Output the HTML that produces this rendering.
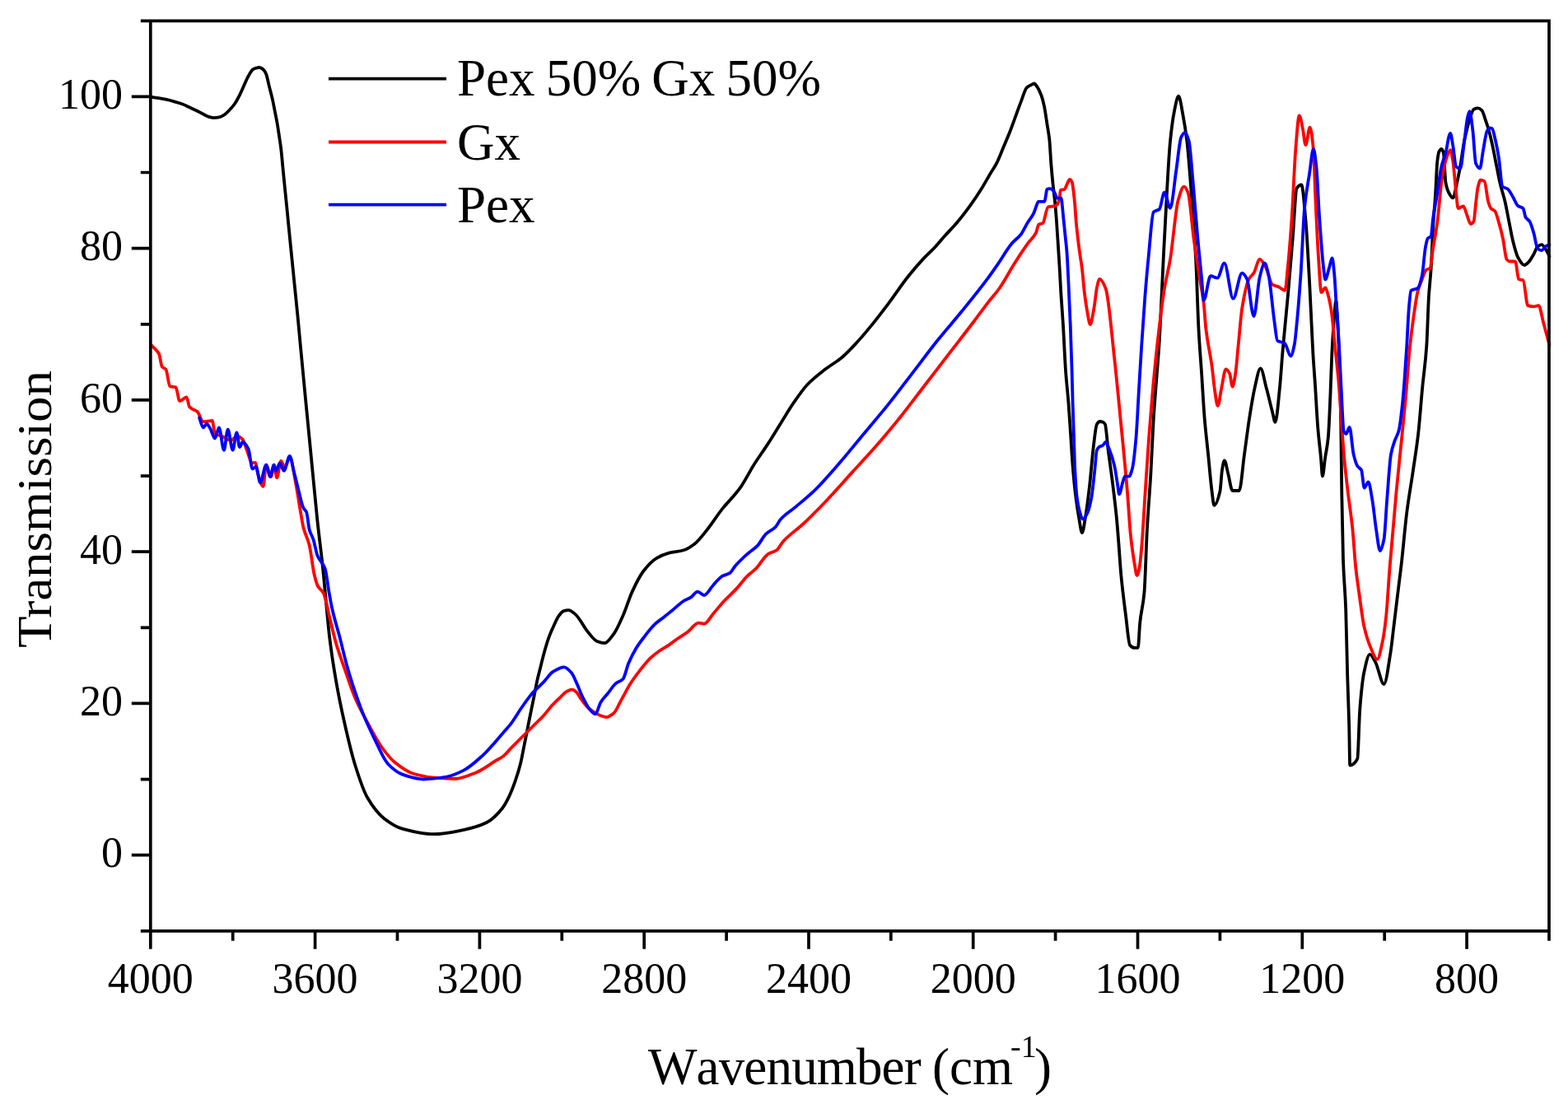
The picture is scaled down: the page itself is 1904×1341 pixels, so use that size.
<!DOCTYPE html>
<html><head><meta charset="utf-8"><style>
html,body{margin:0;padding:0;background:#fff;width:1904px;height:1341px;overflow:hidden}
svg{display:block}
</style></head><body>
<svg width="1904" height="1341" viewBox="0 0 1904 1341"><rect width="1904" height="1341" fill="#fff"/><g fill="none" stroke-width="3.8" stroke-linejoin="round" stroke-linecap="round"><path stroke="#000" d="M182.5,117.6C185.87,118.1 189.23,118.6 192.6,119.2C195.77,119.7 198.93,120.2 202.1,120.9C205.23,121.6 208.37,122.4 211.5,123.3C214.67,124.2 217.83,125.1 221.0,126.3C224.13,127.4 227.27,129.0 230.4,130.4C233.57,131.9 236.73,133.4 239.9,135.0C241.67,135.9 243.43,136.8 245.2,137.7C248.00,139.1 250.80,141.1 253.6,141.9C255.70,142.5 257.80,143.2 259.9,143.2C262.00,143.2 264.10,142.8 266.2,142.4C268.30,142.0 270.40,140.7 272.5,139.4C274.60,138.1 276.70,135.7 278.8,133.5C280.90,131.3 283.00,129.0 285.1,126.0C287.03,123.2 288.97,119.4 290.9,115.6C292.40,112.6 293.90,109.1 295.4,105.8C296.87,102.6 298.33,99.0 299.8,96.0C301.00,93.6 302.20,91.1 303.4,89.2C304.60,87.3 305.80,85.1 307.0,84.3C308.20,83.5 309.40,83.2 310.6,82.8C311.93,82.4 313.27,81.9 314.6,81.9C315.63,81.9 316.67,82.5 317.7,83.0C318.63,83.5 319.57,84.3 320.5,85.3C321.40,86.3 322.30,87.9 323.2,90.0C324.43,92.9 325.67,100.0 326.9,104.9C328.17,110.0 329.43,114.3 330.7,119.9C331.70,124.3 332.70,129.7 333.7,134.8C334.67,139.7 335.63,144.1 336.6,149.7C337.37,154.1 338.13,159.5 338.9,164.6C339.63,169.5 340.37,173.6 341.1,179.6C342.07,187.5 343.03,199.6 344.0,209.4C345.50,224.6 347.00,239.0 348.5,254.1C349.97,268.8 351.43,284.1 352.9,298.8C354.40,313.9 355.90,328.6 357.4,343.5C358.90,358.4 360.40,372.6 361.9,388.2C362.87,398.3 363.83,409.4 364.8,419.7C366.83,441.4 368.87,462.4 370.9,483.5C373.30,508.4 375.70,532.8 378.1,557.5C380.50,582.2 382.90,608.8 385.3,631.5C387.67,653.9 390.03,670.6 392.4,693.6C393.40,703.3 394.40,715.0 395.4,725.4C397.07,742.7 398.73,762.5 400.4,776.1C402.93,796.8 405.47,812.3 408.0,826.8C411.40,846.3 414.80,862.4 418.2,877.5C422.43,896.3 426.67,914.6 430.9,928.2C435.97,944.5 441.03,960.0 446.1,968.8C452.87,980.5 459.63,988.9 466.4,994.2C474.00,1000.1 481.60,1004.9 489.2,1006.9C501.87,1010.3 514.53,1013.2 527.2,1013.2C539.03,1013.2 550.87,1010.5 562.7,1008.1C572.00,1006.2 581.30,1003.8 590.6,999.3C597.07,996.2 603.53,989.8 610.0,981.7C612.70,978.3 615.40,973.2 618.1,967.6C620.77,962.1 623.43,955.1 626.1,947.4C628.10,941.6 630.10,935.4 632.1,927.3C633.47,921.8 634.83,914.0 636.2,907.2C637.53,900.6 638.87,893.7 640.2,887.0C641.53,880.3 642.87,873.5 644.2,866.9C645.57,860.1 646.93,853.6 648.3,846.8C649.63,840.2 650.97,832.6 652.3,826.6C653.63,820.6 654.97,815.9 656.3,810.5C657.63,805.1 658.97,799.3 660.3,794.4C662.33,787.0 664.37,779.9 666.4,774.3C668.40,768.8 670.40,764.5 672.4,760.2C674.43,755.8 676.47,750.8 678.5,748.1C680.50,745.4 682.50,742.7 684.5,742.1C686.50,741.5 688.50,741.1 690.5,741.1C693.20,741.1 695.90,743.9 698.6,746.1C703.73,750.3 708.87,761.8 714.0,767.8C717.70,772.1 721.40,777.6 725.1,779.0C728.10,780.2 731.10,781.2 734.1,781.2C737.83,781.2 741.57,775.0 745.3,770.0C749.03,765.0 752.77,756.1 756.5,747.7C760.23,739.3 763.97,726.7 767.7,718.6C772.17,708.9 776.63,699.9 781.1,694.0C786.30,687.2 791.50,681.4 796.7,678.3C801.93,675.2 807.17,673.0 812.4,671.6C818.37,670.0 824.33,670.0 830.3,668.2C834.77,666.9 839.23,663.8 843.7,660.4C848.93,656.4 854.17,649.0 859.4,642.5C865.37,635.1 871.33,625.3 877.3,617.9C882.50,611.4 887.70,606.4 892.9,600.0C895.27,597.1 897.63,594.2 900.0,590.8C904.97,583.6 909.93,573.3 914.9,565.4C920.87,555.9 926.83,547.9 932.8,538.6C937.77,530.9 942.73,522.6 947.7,514.7C952.67,506.8 957.63,498.1 962.6,490.9C968.57,482.2 974.53,473.3 980.5,467.0C987.47,459.7 994.43,454.5 1001.4,449.1C1008.37,443.7 1015.33,440.0 1022.3,434.2C1028.27,429.2 1034.23,422.7 1040.2,416.3C1046.17,409.9 1052.13,402.7 1058.1,395.4C1065.03,386.9 1071.97,377.8 1078.9,368.6C1086.87,358.0 1094.83,345.8 1102.8,335.8C1108.77,328.3 1114.73,321.3 1120.7,314.9C1125.67,309.6 1130.63,305.3 1135.6,300.0C1139.20,296.1 1142.80,291.6 1146.4,287.5C1151.87,281.3 1157.33,276.0 1162.8,269.5C1168.27,263.0 1173.73,255.8 1179.2,248.1C1183.57,242.0 1187.93,235.4 1192.3,228.4C1196.13,222.3 1199.97,215.2 1203.8,208.8C1205.80,205.5 1207.80,202.8 1209.8,199.0C1212.50,193.9 1215.20,186.6 1217.9,180.2C1220.87,173.2 1223.83,166.3 1226.8,158.7C1229.20,152.5 1231.60,145.6 1234.0,139.1C1236.10,133.4 1238.20,127.5 1240.3,122.1C1242.37,116.8 1244.43,109.0 1246.5,106.8C1248.00,105.2 1249.50,104.5 1251.0,103.7C1252.63,102.8 1254.27,101.5 1255.9,101.5C1256.67,101.5 1257.43,102.8 1258.2,103.7C1260.27,106.2 1262.33,110.4 1264.4,115.8C1265.60,119.0 1266.80,123.6 1268.0,129.2C1269.20,134.8 1270.40,143.9 1271.6,151.6C1272.50,157.4 1273.40,161.2 1274.3,169.5C1275.00,176.0 1275.70,191.3 1276.4,200.0C1277.17,209.6 1277.93,217.6 1278.7,225.0C1279.47,232.4 1280.23,237.2 1281.0,245.0C1281.63,251.4 1282.27,259.3 1282.9,267.8C1283.53,276.3 1284.17,287.1 1284.8,296.9C1285.40,306.2 1286.00,314.9 1286.6,325.0C1287.17,334.6 1287.73,346.8 1288.3,356.1C1289.17,370.3 1290.03,380.2 1290.9,394.2C1291.93,410.9 1292.97,435.6 1294.0,450.1C1295.17,466.5 1296.33,475.0 1297.5,490.0C1298.37,501.2 1299.23,515.1 1300.1,528.0C1300.93,540.4 1301.77,555.9 1302.6,566.1C1303.87,581.6 1305.13,594.0 1306.4,604.1C1307.67,614.2 1308.93,622.5 1310.2,629.5C1311.47,636.5 1312.73,647.2 1314.0,647.2C1315.27,647.2 1316.53,636.7 1317.8,629.5C1319.50,619.9 1321.20,605.9 1322.9,591.4C1324.60,576.9 1326.30,554.1 1328.0,540.7C1329.27,530.7 1330.53,517.4 1331.8,515.4C1333.03,513.4 1334.27,512.0 1335.5,512.0C1336.80,512.0 1338.10,512.3 1339.4,512.8C1340.23,513.1 1341.07,513.9 1341.9,515.4C1343.17,517.6 1344.43,537.1 1345.7,547.1C1347.40,560.5 1349.10,571.4 1350.8,585.1C1352.50,598.8 1354.20,611.9 1355.9,629.5C1356.73,638.1 1357.57,649.4 1358.4,660.0C1359.37,672.3 1360.33,688.1 1361.3,698.4C1363.20,718.7 1365.10,732.6 1367.0,747.5C1368.67,760.6 1370.33,781.8 1372.0,783.6C1373.90,785.7 1375.80,786.9 1377.7,786.9C1379.07,786.9 1380.43,786.9 1381.8,786.9C1382.63,786.9 1383.47,763.4 1384.3,755.7C1386.03,739.6 1387.77,738.5 1389.5,719.3C1390.63,706.8 1391.77,663.9 1392.9,643.2C1394.37,616.4 1395.83,601.6 1397.3,576.3C1398.43,556.7 1399.57,527.5 1400.7,509.3C1401.80,491.7 1402.90,479.3 1404.0,464.6C1405.13,449.5 1406.27,437.5 1407.4,420.0C1409.57,386.5 1411.73,330.5 1413.9,291.0C1416.27,247.9 1418.63,195.5 1421.0,171.6C1422.60,155.5 1424.20,143.6 1425.8,135.8C1427.57,127.2 1429.33,116.7 1431.1,116.7C1432.93,116.7 1434.77,130.9 1436.6,140.6C1438.17,148.9 1439.73,158.4 1441.3,171.6C1443.30,188.4 1445.30,216.7 1447.3,243.3C1448.90,264.6 1450.50,284.6 1452.1,314.9C1453.23,336.4 1454.37,378.8 1455.5,400.0C1456.70,422.5 1457.90,435.5 1459.1,453.7C1460.27,471.3 1461.43,493.2 1462.6,507.4C1464.10,525.7 1465.60,537.2 1467.1,552.1C1468.60,567.0 1470.10,585.5 1471.6,596.9C1472.50,603.7 1473.40,613.9 1474.3,613.9C1476.67,613.9 1479.03,607.0 1481.4,596.9C1482.30,593.1 1483.20,575.1 1484.1,570.0C1485.00,564.9 1485.90,559.3 1486.8,559.3C1488.30,559.3 1489.80,569.8 1491.3,575.4C1493.07,582.0 1494.83,596.0 1496.6,596.0C1499.30,596.0 1502.00,596.0 1504.7,596.0C1506.80,596.0 1508.90,567.0 1511.0,552.1C1513.07,537.5 1515.13,520.5 1517.2,507.4C1519.30,494.0 1521.40,480.6 1523.5,471.6C1525.87,461.5 1528.23,447.4 1530.6,447.4C1533.00,447.4 1535.40,462.9 1537.8,471.6C1540.20,480.3 1542.60,491.2 1545.0,500.2C1546.17,504.6 1547.33,512.8 1548.5,512.8C1550.30,512.8 1552.10,488.9 1553.9,471.6C1555.10,460.1 1556.30,440.7 1557.5,426.8C1559.63,402.2 1561.77,382.8 1563.9,358.8C1565.90,336.3 1567.90,311.6 1569.9,287.2C1571.47,268.1 1573.03,230.9 1574.6,228.7C1576.50,226.0 1578.40,224.5 1580.3,224.5C1582.03,224.5 1583.77,248.7 1585.5,268.0C1587.03,285.1 1588.57,314.9 1590.1,343.0C1591.13,361.9 1592.17,386.0 1593.2,406.6C1593.60,414.6 1594.00,423.2 1594.4,430.0C1595.27,444.7 1596.13,454.8 1597.0,468.0C1598.07,484.2 1599.13,505.6 1600.2,518.8C1601.47,534.5 1602.73,543.3 1604.0,556.9C1604.63,563.7 1605.27,578.5 1605.9,578.5C1606.93,578.5 1607.97,564.0 1609.0,556.9C1610.27,548.3 1611.53,544.5 1612.8,531.5C1613.67,522.6 1614.53,500.5 1615.4,480.8C1616.03,466.4 1616.67,443.0 1617.3,430.0C1618.07,414.2 1618.83,402.8 1619.6,392.0C1620.13,384.5 1620.67,376.4 1621.2,372.0C1621.57,369.0 1621.93,365.0 1622.3,365.0C1622.80,365.0 1623.30,374.7 1623.8,382.0C1624.40,390.8 1625.00,406.2 1625.6,420.0C1626.13,432.2 1626.67,441.4 1627.2,460.0C1627.57,472.8 1627.93,495.1 1628.3,518.8C1628.63,540.4 1628.97,579.7 1629.3,600.0C1629.87,634.6 1630.43,664.0 1631.0,680.0C1632.07,710.1 1633.13,712.2 1634.2,740.4C1634.87,758.0 1635.53,797.9 1636.2,820.9C1636.87,843.9 1637.53,855.9 1638.2,881.3C1638.53,894.0 1638.87,929.6 1639.2,929.6C1642.23,929.6 1645.27,927.6 1648.3,921.6C1649.30,919.6 1650.30,873.9 1651.3,861.2C1652.97,840.0 1654.63,824.8 1656.3,816.9C1658.67,805.7 1661.03,794.8 1663.4,794.8C1665.73,794.8 1668.07,800.6 1670.4,804.8C1673.77,810.9 1677.13,831.0 1680.5,831.0C1683.17,831.0 1685.83,809.2 1688.5,792.7C1689.83,784.5 1691.17,771.4 1692.5,760.5C1694.53,743.9 1696.57,726.8 1698.6,710.2C1699.60,702.1 1700.60,694.7 1701.6,686.0C1703.80,667.0 1706.00,640.3 1708.2,622.9C1710.73,602.9 1713.27,589.7 1715.8,572.2C1717.93,557.5 1720.07,545.2 1722.2,526.5C1723.87,511.9 1725.53,488.2 1727.2,470.7C1728.90,452.9 1730.60,444.7 1732.3,420.2C1733.17,407.7 1734.03,375.0 1734.9,361.0C1735.80,346.5 1736.70,341.2 1737.6,327.4C1738.50,313.6 1739.40,287.4 1740.3,273.0C1741.20,258.6 1742.10,250.8 1743.0,237.0C1743.77,225.3 1744.53,202.4 1745.3,196.0C1746.03,189.9 1746.77,185.4 1747.5,184.0C1748.43,182.2 1749.37,180.8 1750.3,180.8C1751.17,180.8 1752.03,182.9 1752.9,185.9C1753.73,188.8 1754.57,216.7 1755.4,221.4C1756.67,228.5 1757.93,231.6 1759.2,234.0C1760.90,237.2 1762.60,240.4 1764.3,240.4C1765.97,240.4 1767.63,228.6 1769.3,221.4C1770.57,215.9 1771.83,209.4 1773.1,202.4C1774.80,193.0 1776.50,179.1 1778.2,170.7C1780.30,160.4 1782.40,151.7 1784.5,145.3C1786.20,140.1 1787.90,133.5 1789.6,132.7C1791.30,131.9 1793.00,131.4 1794.7,131.4C1796.27,131.4 1797.83,132.6 1799.4,134.1C1800.97,135.6 1802.53,142.1 1804.1,146.6C1805.13,149.5 1806.17,152.5 1807.2,156.0C1808.77,161.4 1810.33,167.8 1811.9,174.8C1813.47,181.8 1815.03,190.5 1816.6,198.3C1818.17,206.1 1819.73,215.1 1821.3,221.8C1823.40,230.8 1825.50,236.3 1827.6,245.3C1829.17,252.0 1830.73,261.0 1832.3,268.8C1833.87,276.6 1835.43,286.0 1837.0,292.3C1839.07,300.6 1841.13,308.9 1843.2,312.6C1845.83,317.3 1848.47,322.0 1851.1,322.0C1852.73,322.0 1854.37,320.1 1856.0,318.5C1858.10,316.5 1860.20,312.6 1862.3,309.0C1863.90,306.2 1865.50,300.8 1867.1,299.5C1868.70,298.2 1870.30,297.1 1871.9,297.1C1873.87,297.1 1875.83,301.3 1877.8,304.3C1879.00,306.1 1880.20,309.0 1881.4,311.4"/><path stroke="#f00" d="M183.6,419.1C185.57,421.1 187.53,422.8 189.5,425.1C190.70,426.5 191.90,427.4 193.1,429.8C194.30,432.2 195.50,443.7 196.7,445.3C198.30,447.4 199.90,446.9 201.5,448.9C203.10,450.9 204.70,468.6 206.3,469.2C208.67,470.0 211.03,469.6 213.4,470.4C215.00,470.9 216.60,487.1 218.2,487.1C220.97,487.1 223.73,482.3 226.5,482.3C227.70,482.3 228.90,492.9 230.1,494.3C233.30,498.0 236.50,497.2 239.7,500.2C242.07,502.4 244.43,512.2 246.8,512.2C250.40,512.2 254.00,511.0 257.6,511.0C258.77,511.0 259.93,525.5 261.1,526.5C264.07,528.9 267.03,528.7 270.0,530.0C273.33,531.5 276.67,535.0 280.0,535.0C282.67,535.0 285.33,530.0 288.0,530.0C290.20,530.0 292.40,531.6 294.6,533.7C296.17,535.2 297.73,541.8 299.3,545.6C301.70,551.4 304.10,562.3 306.5,562.3C307.67,562.3 308.83,562.0 310.0,562.0C311.00,562.0 312.00,571.8 313.0,575.0C315.20,582.1 317.40,590.9 319.6,590.9C320.80,590.9 322.00,564.7 323.2,564.7C325.20,564.7 327.20,579.0 329.2,579.0C330.37,579.0 331.53,565.0 332.7,565.0C333.90,565.0 335.10,580.2 336.3,580.2C337.90,580.2 339.50,559.9 341.1,559.9C342.73,559.9 344.37,568.0 346.0,568.0C347.93,568.0 349.87,555.1 351.8,555.1C354.20,555.1 356.60,574.1 359.0,586.2C360.60,594.3 362.20,605.6 363.8,614.8C365.37,623.8 366.93,634.8 368.5,641.0C370.90,650.5 373.30,652.9 375.7,662.5C377.70,670.5 379.70,690.1 381.7,698.3C383.13,704.2 384.57,709.4 386.0,712.0C388.27,716.1 390.53,716.1 392.8,720.3C395.33,725.0 397.87,740.6 400.4,750.7C402.93,760.8 405.47,772.5 408.0,781.2C411.40,792.9 414.80,801.8 418.2,811.6C422.43,823.8 426.67,837.2 430.9,847.1C435.97,859.0 441.03,868.1 446.1,877.5C452.00,888.4 457.90,899.9 463.8,908.0C468.90,915.0 474.00,921.5 479.1,925.7C486.70,931.9 494.30,937.4 501.9,939.7C510.33,942.2 518.77,944.0 527.2,944.7C535.67,945.4 544.13,946.0 552.6,946.0C561.07,946.0 569.53,941.8 578.0,938.4C586.43,935.0 594.87,928.2 603.3,923.2C605.53,921.9 607.77,920.9 610.0,919.3C613.37,916.9 616.73,912.6 620.1,909.2C623.43,905.9 626.77,902.4 630.1,899.1C633.47,895.7 636.83,892.3 640.2,889.0C643.57,885.7 646.93,882.4 650.3,879.0C653.63,875.7 656.97,872.6 660.3,868.9C663.67,865.2 667.03,860.5 670.4,856.8C673.77,853.1 677.13,849.9 680.5,846.8C683.17,844.3 685.83,841.0 688.5,839.7C690.53,838.7 692.57,837.7 694.6,837.7C696.40,837.7 698.20,839.2 700.0,840.7C701.67,842.1 703.33,846.0 705.0,848.3C708.00,852.4 711.00,856.8 714.0,859.5C717.70,862.9 721.40,865.6 725.1,867.3C728.83,869.0 732.57,871.1 736.3,871.1C739.30,871.1 742.30,868.7 745.3,866.2C748.27,863.7 751.23,855.9 754.2,850.6C757.93,844.0 761.67,836.3 765.4,830.4C769.13,824.5 772.87,819.6 776.6,814.8C781.07,809.1 785.53,803.3 790.0,799.1C793.73,795.6 797.47,792.8 801.2,790.2C804.93,787.6 808.67,785.9 812.4,783.4C815.37,781.4 818.33,778.8 821.3,776.7C825.80,773.5 830.30,771.1 834.8,767.8C839.27,764.5 843.73,756.6 848.2,756.6C850.43,756.6 852.67,757.7 854.9,757.7C858.63,757.7 862.37,749.6 866.1,745.4C870.57,740.4 875.03,734.6 879.5,729.8C884.73,724.2 889.97,719.8 895.2,714.1C899.30,709.6 903.40,703.6 907.5,699.6C910.97,696.2 914.43,694.1 917.9,690.7C922.87,685.8 927.83,675.9 932.8,672.8C936.27,670.7 939.73,670.7 943.2,668.3C945.70,666.6 948.20,660.7 950.7,657.9C958.67,649.0 966.63,644.4 974.6,637.0C984.53,627.8 994.47,617.6 1004.4,607.2C1014.33,596.8 1024.27,585.3 1034.2,574.4C1044.13,563.5 1054.07,553.0 1064.0,541.6C1073.97,530.2 1083.93,518.2 1093.9,505.8C1103.83,493.4 1113.77,479.9 1123.7,467.0C1133.63,454.1 1143.57,441.1 1153.5,428.2C1163.43,415.3 1173.37,402.6 1183.3,389.5C1188.87,382.1 1194.43,374.3 1200.0,367.1C1204.57,361.2 1209.13,356.4 1213.7,350.0C1219.70,341.5 1225.70,329.7 1231.7,320.3C1237.17,311.7 1242.63,303.3 1248.1,295.7C1251.40,291.1 1254.70,289.1 1258.0,282.6C1259.10,280.4 1260.20,273.4 1261.3,272.7C1262.93,271.7 1264.57,272.0 1266.2,271.1C1268.37,269.9 1270.53,252.0 1272.7,251.4C1275.13,250.8 1277.57,251.0 1280.0,250.4C1281.30,250.1 1282.60,249.6 1283.9,248.4C1284.87,247.5 1285.83,243.6 1286.8,238.8C1287.13,237.1 1287.47,231.2 1287.8,231.0C1289.40,230.2 1291.00,230.6 1292.6,230.0C1293.57,229.6 1294.53,226.1 1295.5,224.2C1296.63,222.0 1297.77,217.9 1298.9,217.9C1299.87,217.9 1300.83,219.3 1301.8,221.3C1302.43,222.6 1303.07,228.9 1303.7,233.9C1304.20,237.9 1304.70,242.7 1305.2,248.4C1305.67,253.7 1306.13,262.4 1306.6,267.8C1307.27,275.5 1307.93,281.3 1308.6,287.2C1309.40,294.3 1310.20,300.7 1311.0,306.6C1311.97,313.7 1312.93,318.2 1313.9,326.0C1314.90,334.0 1315.90,348.1 1316.9,356.1C1318.10,365.7 1319.30,373.8 1320.5,380.0C1321.60,385.7 1322.70,394.2 1323.8,394.2C1325.30,394.2 1326.80,383.1 1328.3,375.1C1329.53,368.5 1330.77,354.4 1332.0,349.0C1333.07,344.4 1334.13,338.8 1335.2,338.8C1337.70,338.8 1340.20,344.3 1342.7,350.7C1346.17,359.6 1349.63,403.3 1353.1,434.3C1355.60,456.7 1358.10,483.3 1360.6,509.0C1363.40,537.8 1366.20,564.9 1369.0,598.5C1370.27,613.7 1371.53,637.0 1372.8,649.2C1374.43,664.9 1376.07,675.9 1377.7,685.2C1378.67,690.7 1379.63,699.0 1380.6,699.0C1381.57,699.0 1382.53,694.5 1383.5,690.0C1384.40,685.8 1385.30,675.5 1386.2,665.5C1387.67,649.2 1389.13,620.7 1390.6,598.6C1392.10,576.0 1393.60,551.9 1395.1,531.6C1396.60,511.3 1398.10,492.6 1399.6,475.8C1401.43,455.3 1403.27,436.4 1405.1,420.0C1408.03,393.7 1410.97,368.6 1413.9,350.7C1416.27,336.3 1418.63,329.0 1421.0,314.9C1424.20,295.8 1427.40,254.3 1430.6,243.3C1433.00,235.0 1435.40,226.6 1437.8,226.6C1439.37,226.6 1440.93,229.9 1442.5,233.7C1444.90,239.5 1447.30,273.6 1449.7,291.0C1452.10,308.4 1454.50,323.6 1456.9,338.8C1458.47,348.7 1460.03,354.5 1461.6,367.4C1462.53,375.1 1463.47,392.1 1464.4,400.0C1466.80,420.3 1469.20,427.2 1471.6,444.7C1472.80,453.4 1474.00,467.6 1475.2,475.2C1476.37,482.6 1477.53,493.1 1478.7,493.1C1480.20,493.1 1481.70,478.4 1483.2,471.6C1485.00,463.4 1486.80,448.3 1488.6,448.3C1490.10,448.3 1491.60,450.8 1493.1,453.7C1494.27,456.0 1495.43,469.8 1496.6,469.8C1497.80,469.8 1499.00,461.1 1500.2,453.7C1501.40,446.3 1502.60,429.8 1503.8,417.9C1505.27,403.4 1506.73,383.7 1508.2,374.6C1511.00,357.2 1513.80,343.9 1516.6,338.8C1518.57,335.2 1520.53,334.7 1522.5,331.6C1524.90,327.8 1527.30,314.9 1529.7,314.9C1532.07,314.9 1534.43,320.3 1536.8,324.4C1539.60,329.3 1542.40,344.3 1545.2,345.9C1547.43,347.2 1549.67,347.2 1551.9,348.1C1554.70,349.2 1557.50,352.8 1560.3,352.8C1561.50,352.8 1562.70,334.8 1563.9,323.0C1565.50,307.2 1567.10,286.7 1568.7,263.3C1570.27,240.4 1571.83,198.6 1573.4,179.7C1574.83,162.4 1576.27,140.3 1577.7,140.3C1579.07,140.3 1580.43,149.6 1581.8,155.8C1583.00,161.3 1584.20,176.1 1585.4,176.1C1587.13,176.1 1588.87,154.6 1590.6,154.6C1592.03,154.6 1593.47,166.8 1594.9,182.1C1595.70,190.6 1596.50,221.9 1597.3,239.4C1598.50,265.6 1599.70,292.8 1600.9,311.0C1602.10,329.2 1603.30,355.2 1604.5,355.2C1606.10,355.2 1607.70,349.3 1609.3,349.3C1610.47,349.3 1611.63,354.7 1612.8,358.8C1614.27,364.0 1615.73,371.3 1617.2,381.5C1618.33,389.4 1619.47,404.6 1620.6,416.0C1622.33,433.4 1624.07,447.1 1625.8,467.5C1627.20,484.0 1628.60,509.0 1630.0,527.6C1630.87,539.1 1631.73,550.7 1632.6,560.0C1633.87,573.5 1635.13,584.0 1636.4,594.9C1638.40,612.1 1640.40,623.2 1642.4,642.7C1643.70,655.4 1645.00,677.9 1646.3,690.0C1647.63,702.4 1648.97,710.8 1650.3,720.3C1652.30,734.6 1654.30,751.6 1656.3,760.5C1659.00,772.5 1661.70,780.5 1664.4,786.7C1667.07,792.8 1669.73,800.8 1672.4,800.8C1674.43,800.8 1676.47,789.9 1678.5,780.7C1680.00,773.9 1681.50,763.5 1683.0,750.0C1684.50,736.5 1686.00,708.7 1687.5,690.0C1690.17,656.8 1692.83,626.0 1695.5,597.6C1697.63,574.9 1699.77,555.6 1701.9,534.2C1703.57,517.5 1705.23,501.8 1706.9,483.4C1708.63,464.2 1710.37,436.9 1712.1,420.2C1713.43,407.4 1714.77,397.2 1716.1,387.8C1717.90,375.0 1719.70,361.2 1721.5,354.2C1723.17,347.7 1724.83,344.1 1726.5,340.0C1728.43,335.2 1730.37,328.5 1732.3,327.4C1733.63,326.6 1734.97,326.9 1736.3,326.0C1737.63,325.1 1738.97,308.9 1740.3,300.5C1742.10,289.2 1743.90,281.1 1745.7,266.9C1746.60,259.8 1747.50,248.9 1748.4,240.0C1749.03,233.7 1749.67,225.7 1750.3,221.4C1752.43,206.8 1754.57,196.9 1756.7,191.0C1758.17,186.9 1759.63,182.1 1761.1,182.1C1762.17,182.1 1763.23,189.6 1764.3,196.0C1765.57,203.6 1766.83,223.2 1768.1,234.0C1768.93,241.1 1769.77,253.0 1770.6,253.0C1772.70,253.0 1774.80,250.5 1776.9,250.5C1778.17,250.5 1779.43,256.4 1780.7,259.4C1782.40,263.5 1784.10,272.0 1785.8,272.0C1787.03,272.0 1788.27,270.9 1789.5,269.0C1790.37,267.7 1791.23,253.8 1792.1,246.7C1792.90,240.2 1793.70,231.4 1794.5,228.0C1795.60,223.3 1796.70,218.7 1797.8,218.7C1799.37,218.7 1800.93,219.3 1802.5,220.2C1804.07,221.1 1805.63,240.2 1807.2,245.3C1808.27,248.8 1809.33,252.0 1810.4,253.1C1811.97,254.8 1813.53,254.5 1815.1,256.2C1816.90,258.1 1818.70,265.9 1820.5,272.0C1822.00,277.1 1823.50,283.0 1825.0,290.0C1826.50,297.0 1828.00,313.0 1829.5,315.0C1830.43,316.3 1831.37,317.2 1832.3,317.3C1834.90,317.6 1837.50,317.4 1840.1,317.7C1841.43,317.9 1842.77,338.4 1844.1,339.1C1845.90,340.0 1847.70,339.6 1849.5,340.5C1851.40,341.4 1853.30,370.5 1855.2,371.1C1857.57,371.9 1859.93,372.3 1862.3,372.3C1864.30,372.3 1866.30,371.1 1868.3,371.1C1870.30,371.1 1872.30,385.3 1874.3,392.6C1876.67,401.2 1879.03,410.1 1881.4,418.9"/><path stroke="#00f" d="M242.0,507.4C243.60,511.4 245.20,519.3 246.8,519.3C248.20,519.3 249.60,515.0 251.0,515.0C252.33,515.0 253.67,518.0 255.0,520.0C257.03,523.1 259.07,532.5 261.1,532.5C262.70,532.5 264.30,519.3 265.9,519.3C267.90,519.3 269.90,546.8 271.9,546.8C273.50,546.8 275.10,521.7 276.7,521.7C278.67,521.7 280.63,546.8 282.6,546.8C284.20,546.8 285.80,525.3 287.4,525.3C288.60,525.3 289.80,543.2 291.0,543.2C292.20,543.2 293.40,537.0 294.6,537.0C296.97,537.0 299.33,540.8 301.7,545.6C303.30,548.8 304.90,569.5 306.5,569.5C308.00,569.5 309.50,567.0 311.0,567.0C312.67,567.0 314.33,586.2 316.0,586.2C318.40,586.2 320.80,564.7 323.2,564.7C324.80,564.7 326.40,579.0 328.0,579.0C329.57,579.0 331.13,564.7 332.7,564.7C333.47,564.7 334.23,572.0 335.0,572.0C336.63,572.0 338.27,562.3 339.9,562.3C341.50,562.3 343.10,571.8 344.7,571.8C347.07,571.8 349.43,554.0 351.8,554.0C353.40,554.0 355.00,565.7 356.6,571.8C358.20,577.9 359.80,584.7 361.4,590.9C363.77,600.0 366.13,612.8 368.5,617.2C369.70,619.4 370.90,619.4 372.1,622.0C373.30,624.6 374.50,639.1 375.7,643.4C377.30,649.1 378.90,650.5 380.5,655.4C382.10,660.3 383.70,670.4 385.3,674.5C388.47,682.6 391.63,682.1 394.8,691.2C396.40,695.8 398.00,710.8 399.6,719.8C400.73,726.2 401.87,732.8 403.0,738.0C406.37,753.3 409.73,763.0 413.1,776.1C415.63,786.0 418.17,797.3 420.7,806.5C423.23,815.7 425.77,824.1 428.3,831.9C432.53,844.9 436.77,857.0 441.0,867.4C445.23,877.8 449.47,886.7 453.7,895.3C459.60,907.2 465.50,922.1 471.4,928.2C477.33,934.3 483.27,938.8 489.2,940.9C497.67,943.8 506.13,946.5 514.6,946.5C523.90,946.5 533.20,945.1 542.5,943.5C549.23,942.3 555.97,939.3 562.7,935.9C570.33,932.1 577.97,925.0 585.6,918.1C594.03,910.4 602.47,899.8 610.9,890.2C613.93,886.7 616.97,883.5 620.0,879.6C624.47,873.8 628.93,865.8 633.4,859.5C637.87,853.2 642.33,846.7 646.8,841.6C651.30,836.5 655.80,832.9 660.3,828.2C664.03,824.3 667.77,818.2 671.5,815.9C675.97,813.2 680.43,810.3 684.9,810.3C687.87,810.3 690.83,813.7 693.8,817.0C696.03,819.5 698.27,825.6 700.5,830.4C702.73,835.2 704.97,841.6 707.2,846.1C710.20,852.1 713.20,858.4 716.2,861.7C718.43,864.2 720.67,867.3 722.9,867.3C725.13,867.3 727.37,856.4 729.6,852.8C732.60,848.0 735.60,845.4 738.6,841.6C741.57,837.9 744.53,832.9 747.5,830.4C750.50,827.9 753.50,828.0 756.5,824.8C758.73,822.4 760.97,811.1 763.2,805.8C766.17,798.8 769.13,792.8 772.1,787.9C775.83,781.7 779.57,777.1 783.3,772.3C787.03,767.5 790.77,762.4 794.5,758.8C798.23,755.2 801.97,752.9 805.7,749.9C809.43,746.9 813.17,743.9 816.9,740.9C821.37,737.3 825.83,732.6 830.3,729.8C833.27,728.0 836.23,727.2 839.2,725.3C841.83,723.6 844.47,718.6 847.1,718.6C849.70,718.6 852.30,723.0 854.9,723.0C858.63,723.0 862.37,714.6 866.1,710.7C869.83,706.8 873.57,701.6 877.3,699.6C880.27,698.0 883.23,698.0 886.2,696.2C888.43,694.8 890.67,689.8 892.9,687.2C897.40,682.0 901.90,677.9 906.4,673.8C910.93,669.7 915.47,667.4 920.0,662.6C923.27,659.2 926.53,652.1 929.8,648.9C933.80,645.0 937.80,644.2 941.8,640.0C943.77,638.0 945.73,633.2 947.7,631.0C953.67,624.2 959.63,621.2 965.6,616.1C973.57,609.3 981.53,603.0 989.5,595.3C999.43,585.7 1009.37,573.9 1019.3,562.5C1029.23,551.1 1039.17,538.6 1049.1,526.7C1059.03,514.8 1068.97,503.3 1078.9,490.9C1088.87,478.5 1098.83,465.1 1108.8,452.1C1118.73,439.2 1128.67,425.7 1138.6,413.3C1148.53,400.9 1158.47,389.8 1168.4,377.5C1178.93,364.5 1189.47,351.5 1200.0,337.3C1204.00,331.9 1208.00,326.1 1212.0,320.3C1217.47,312.4 1222.93,302.5 1228.4,296.0C1232.27,291.4 1236.13,289.4 1240.0,284.3C1242.50,281.0 1245.00,275.0 1247.5,270.9C1249.97,266.9 1252.43,264.6 1254.9,259.7C1256.10,257.3 1257.30,252.9 1258.5,250.0C1259.30,248.1 1260.10,244.8 1260.9,244.8C1263.40,244.8 1265.90,244.8 1268.4,244.8C1268.93,244.8 1269.47,239.8 1270.0,237.0C1270.43,234.8 1270.87,230.1 1271.3,229.9C1272.53,229.3 1273.77,229.1 1275.0,229.1C1276.17,229.1 1277.33,230.0 1278.5,231.0C1279.17,231.6 1279.83,232.9 1280.5,234.0C1281.63,235.9 1282.77,240.7 1283.9,240.7C1285.50,240.7 1287.10,240.7 1288.7,240.7C1289.03,240.7 1289.37,245.5 1289.7,248.4C1290.33,253.9 1290.97,261.5 1291.6,267.8C1292.27,274.4 1292.93,280.6 1293.6,287.2C1294.23,293.5 1294.87,298.2 1295.5,306.6C1296.10,314.5 1296.70,327.8 1297.3,340.0C1298.10,356.2 1298.90,373.7 1299.7,394.2C1300.33,410.5 1300.97,428.3 1301.6,450.1C1301.93,461.6 1302.27,478.7 1302.6,490.0C1303.03,504.7 1303.47,514.8 1303.9,528.0C1304.30,540.2 1304.70,557.7 1305.1,566.1C1305.97,584.3 1306.83,597.4 1307.7,604.1C1308.97,613.8 1310.23,619.1 1311.5,623.1C1312.57,626.5 1313.63,630.7 1314.7,630.7C1316.60,630.7 1318.50,626.9 1320.4,623.1C1322.07,619.8 1323.73,613.0 1325.4,604.1C1326.67,597.4 1327.93,583.8 1329.2,572.4C1330.07,564.6 1330.93,549.4 1331.8,547.1C1332.63,544.9 1333.47,543.9 1334.3,543.2C1336.00,541.9 1337.70,541.9 1339.4,540.7C1340.43,540.0 1341.47,536.9 1342.5,536.9C1344.00,536.9 1345.50,542.2 1347.0,545.8C1349.10,550.9 1351.20,557.1 1353.3,566.1C1354.57,571.5 1355.83,581.3 1357.1,588.9C1357.73,592.7 1358.37,600.3 1359.0,600.3C1360.50,600.3 1362.00,589.4 1363.5,585.1C1364.33,582.7 1365.17,578.7 1366.0,578.7C1367.70,578.7 1369.40,578.7 1371.1,578.7C1372.40,578.7 1373.70,573.9 1375.0,569.0C1376.50,563.3 1378.00,548.6 1379.5,531.6C1380.60,519.1 1381.70,494.1 1382.8,475.8C1383.93,456.9 1385.07,437.4 1386.2,420.0C1387.60,398.5 1389.00,377.4 1390.4,359.7C1391.87,341.2 1393.33,324.8 1394.8,310.1C1396.77,290.4 1398.73,259.5 1400.7,257.6C1403.10,255.3 1405.50,256.1 1407.9,254.0C1409.90,252.2 1411.90,233.7 1413.9,233.7C1416.27,233.7 1418.63,252.8 1421.0,252.8C1423.40,252.8 1425.80,223.1 1428.2,207.4C1430.20,194.3 1432.20,171.0 1434.2,166.9C1435.80,163.6 1437.40,160.9 1439.0,160.9C1440.57,160.9 1442.13,165.8 1443.7,171.6C1445.30,177.5 1446.90,202.1 1448.5,219.4C1450.50,241.0 1452.50,269.1 1454.5,291.0C1456.07,308.1 1457.63,322.2 1459.2,338.8C1460.00,347.3 1460.80,365.0 1461.6,365.0C1464.40,365.0 1467.20,335.2 1470.0,335.2C1472.77,335.2 1475.53,337.6 1478.3,337.6C1481.10,337.6 1483.90,319.7 1486.7,319.7C1490.27,319.7 1493.83,362.7 1497.4,362.7C1501.00,362.7 1504.60,331.6 1508.2,331.6C1510.20,331.6 1512.20,335.0 1514.2,338.8C1516.97,344.1 1519.73,384.1 1522.5,384.1C1524.90,384.1 1527.30,345.7 1529.7,336.4C1531.70,328.7 1533.70,319.7 1535.7,319.7C1537.27,319.7 1538.83,327.3 1540.4,334.0C1542.73,344.0 1545.07,373.7 1547.4,390.0C1548.67,398.8 1549.93,413.2 1551.2,414.0C1552.40,414.8 1553.60,414.8 1554.8,415.2C1556.53,415.8 1558.27,416.0 1560.0,417.0C1562.40,418.4 1564.80,432.5 1567.2,432.5C1568.77,432.5 1570.33,425.6 1571.9,418.0C1572.60,414.6 1573.30,406.8 1574.0,400.0C1575.80,382.4 1577.60,360.6 1579.4,334.9C1581.00,312.0 1582.60,267.3 1584.2,251.3C1586.17,231.6 1588.13,223.5 1590.1,210.7C1591.70,200.3 1593.30,180.9 1594.9,180.9C1596.10,180.9 1597.30,192.6 1598.5,203.6C1599.70,214.6 1600.90,246.1 1602.1,263.3C1603.70,286.2 1605.30,309.2 1606.9,323.0C1607.70,329.9 1608.50,339.7 1609.3,339.7C1610.87,339.7 1612.43,330.4 1614.0,325.4C1615.20,321.6 1616.40,313.4 1617.6,313.4C1618.57,313.4 1619.53,325.6 1620.5,336.0C1621.10,342.4 1621.70,355.2 1622.3,364.4C1623.47,382.2 1624.63,396.1 1625.8,416.0C1626.67,430.8 1627.53,451.7 1628.4,467.5C1629.53,488.1 1630.67,522.1 1631.8,524.2C1632.70,525.9 1633.60,527.0 1634.5,527.0C1635.90,527.0 1637.30,519.0 1638.7,519.0C1640.33,519.0 1641.97,545.1 1643.6,551.9C1645.20,558.5 1646.80,563.9 1648.4,566.3C1649.97,568.6 1651.53,568.2 1653.1,571.0C1654.30,573.1 1655.50,592.5 1656.7,592.5C1658.30,592.5 1659.90,585.4 1661.5,585.4C1663.10,585.4 1664.70,597.9 1666.3,606.9C1667.87,615.7 1669.43,632.7 1671.0,642.7C1672.60,652.9 1674.20,669.0 1675.8,669.0C1677.40,669.0 1679.00,662.7 1680.6,654.6C1681.80,648.5 1683.00,621.7 1684.2,606.9C1685.80,587.2 1687.40,560.6 1689.0,551.9C1690.57,543.4 1692.13,539.8 1693.7,535.2C1695.30,530.5 1696.90,529.3 1698.5,523.3C1700.10,517.3 1701.70,502.9 1703.3,487.5C1704.90,472.1 1706.50,446.9 1708.1,422.0C1709.00,408.0 1709.90,384.5 1710.8,374.4C1711.67,364.7 1712.53,353.6 1713.4,352.9C1716.10,350.8 1718.80,351.9 1721.5,350.2C1723.30,349.1 1725.10,342.2 1726.9,334.1C1728.23,328.1 1729.57,307.6 1730.9,300.5C1731.80,295.7 1732.70,290.8 1733.6,289.7C1734.93,288.1 1736.27,288.8 1737.6,287.0C1738.50,285.8 1739.40,270.3 1740.3,264.0C1741.67,254.4 1743.03,248.3 1744.4,240.0C1746.37,228.0 1748.33,210.8 1750.3,202.4C1752.00,195.2 1753.70,192.1 1755.4,185.9C1757.30,179.0 1759.20,161.8 1761.1,161.8C1762.17,161.8 1763.23,171.1 1764.3,177.0C1765.57,184.0 1766.83,201.2 1768.1,202.4C1769.77,204.0 1771.43,204.9 1773.1,204.9C1774.80,204.9 1776.50,182.6 1778.2,170.7C1779.47,161.8 1780.73,148.4 1782.0,143.0C1782.83,139.5 1783.67,135.2 1784.5,135.2C1785.77,135.2 1787.03,148.3 1788.3,158.0C1789.57,167.7 1790.83,195.7 1792.1,198.6C1793.73,202.3 1795.37,204.6 1797.0,204.6C1798.33,204.6 1799.67,189.6 1801.0,182.6C1802.57,174.4 1804.13,161.8 1805.7,159.1C1806.80,157.2 1807.90,155.5 1809.0,155.5C1809.97,155.5 1810.93,155.7 1811.9,156.0C1812.97,156.3 1814.03,162.7 1815.1,167.0C1816.67,173.3 1818.23,180.9 1819.8,190.5C1821.33,199.9 1822.87,225.0 1824.4,226.5C1826.50,228.5 1828.60,228.0 1830.7,229.6C1832.80,231.2 1834.90,235.6 1837.0,239.0C1839.07,242.4 1841.13,248.4 1843.2,250.0C1845.30,251.6 1847.40,251.1 1849.5,253.1C1850.53,254.1 1851.57,262.4 1852.6,264.1C1854.17,266.6 1855.73,266.5 1857.3,268.8C1858.97,271.2 1860.63,277.3 1862.3,282.8C1863.90,288.1 1865.50,300.5 1867.1,301.9C1868.70,303.3 1870.30,304.3 1871.9,304.3C1873.47,304.3 1875.03,300.6 1876.6,299.5C1878.20,298.4 1879.80,297.9 1881.4,297.1"/></g><path d="M182.8,25.3H1881.0V1130.8H170.8M182.8,1130.8V25.3H170.8M182.8,1130.8v22M282.7,1130.8v12M382.6,1130.8v22M482.5,1130.8v12M582.4,1130.8v22M682.3,1130.8v12M782.2,1130.8v22M882.1,1130.8v12M982.0,1130.8v22M1081.8,1130.8v12M1181.7,1130.8v22M1281.6,1130.8v12M1381.5,1130.8v22M1481.4,1130.8v12M1581.3,1130.8v22M1681.2,1130.8v12M1781.1,1130.8v22M1881.0,1130.8v12M182.8,1130.8h-12M182.8,1038.7h-23M182.8,946.6h-12M182.8,854.4h-23M182.8,762.3h-12M182.8,670.2h-23M182.8,578.1h-12M182.8,485.9h-23M182.8,393.8h-12M182.8,301.7h-23M182.8,209.5h-12M182.8,117.4h-23M182.8,25.3h-12" fill="none" stroke="#000" stroke-width="3.7" stroke-linecap="butt"/><g font-family="'Liberation Serif', serif" font-size="52" fill="#000"><text x="182.8" y="1206" text-anchor="middle">4000</text><text x="382.6" y="1206" text-anchor="middle">3600</text><text x="582.4" y="1206" text-anchor="middle">3200</text><text x="782.2" y="1206" text-anchor="middle">2800</text><text x="982.0" y="1206" text-anchor="middle">2400</text><text x="1181.7" y="1206" text-anchor="middle">2000</text><text x="1381.5" y="1206" text-anchor="middle">1600</text><text x="1581.3" y="1206" text-anchor="middle">1200</text><text x="1781.1" y="1206" text-anchor="middle">800</text><text x="149" y="1053.3" text-anchor="end">0</text><text x="149" y="869.0" text-anchor="end">20</text><text x="149" y="684.8" text-anchor="end">40</text><text x="149" y="500.5" text-anchor="end">60</text><text x="149" y="316.3" text-anchor="end">80</text><text x="149" y="132.0" text-anchor="end">100</text></g><g font-family="'Liberation Serif', serif" font-size="63" fill="#000"><text transform="translate(62,618.5) rotate(-90) scale(1,0.95)" text-anchor="middle">Transmission</text><text y="1317" style="font-kerning:none"><tspan x="787" letter-spacing="-0.85">Wavenumber</tspan><tspan x="1126.5"> </tspan><tspan x="1132">(cm</tspan><tspan x="1227" y="1283.5" font-size="38">-1</tspan><tspan x="1256" y="1317">)</tspan></text><line x1="399" y1="95.7" x2="542" y2="95.7" stroke="#000" stroke-width="3.8"/><text x="555" y="115.6" word-spacing="-2.6">Pex 50% Gx 50%</text><line x1="399" y1="172.5" x2="542" y2="172.5" stroke="#f00" stroke-width="3.8"/><text x="555" y="194.0" word-spacing="-2.6">Gx</text><line x1="399" y1="248.6" x2="542" y2="248.6" stroke="#00f" stroke-width="3.8"/><text x="555" y="269.5" word-spacing="-2.6">Pex</text></g></svg>
</body></html>
